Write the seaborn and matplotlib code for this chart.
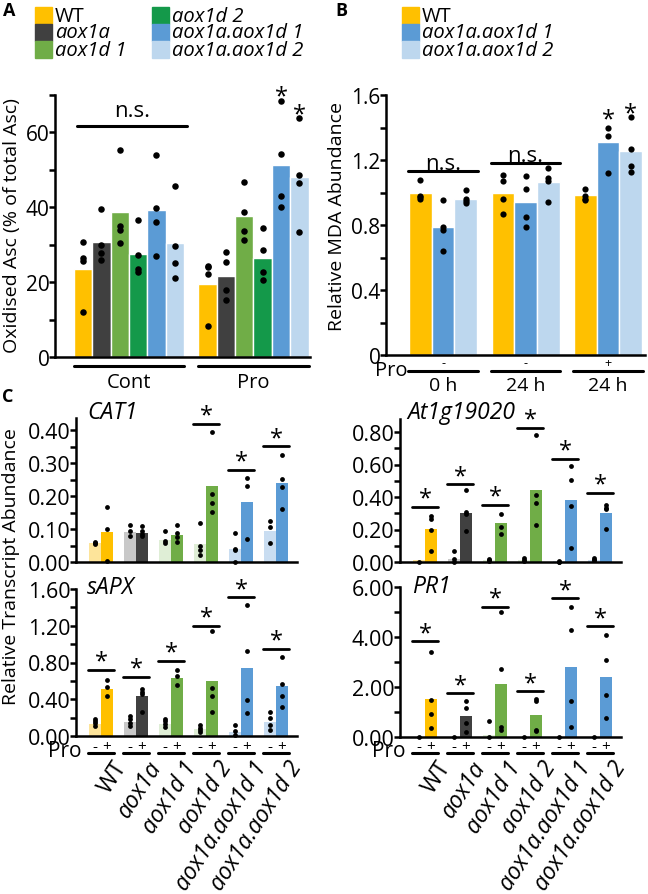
import numpy as np
import pandas as pd
import matplotlib
matplotlib.use("Agg")
import matplotlib.pyplot as plt
import seaborn as sns
from matplotlib.transforms import Affine2D, blended_transform_factory
from matplotlib.patches import Rectangle

sns.set_style("ticks", {"axes.edgecolor": "black", "xtick.color": "black",
                        "ytick.color": "black", "text.color": "black"})
plt.rcParams['font.family'] = ['Open Sans', 'DejaVu Sans']

# ---------------- data ----------------
genotypes = ["WT", "aox1a", "aox1d 1", "aox1d 2", "aox1a.aox1d 1", "aox1a.aox1d 2"]
col_A = ["#ffc000", "#404040", "#70ad47", "#14994a", "#5b9bd5", "#bdd7ee"]

# panel A: oxidised ascorbate (% of total)
a_groups = ["Cont", "Pro"]
a_cont = [23.6, 30.8, 38.6, 27.5, 39.2, 30.4]
a_pro = [19.6, 21.5, 37.5, 26.4, 51.3, 47.9]
a_cont_dots = [[30.6, 26.5, 25.7, 11.9], [39.5, 29.9, 27.7, 25.9], [55.3, 35.0, 33.9, 30.4],
               [36.5, 27.2, 23.6, 22.7], [53.9, 39.8, 36.1, 26.9], [45.7, 29.7, 25.2, 21.1]]
a_pro_dots = [[24.2, 23.9, 22.1, 8.3], [28.1, 25.4, 17.9, 15.2], [46.6, 38.8, 33.5, 31.3],
              [34.4, 28.5, 22.6, 20.5], [68.2, 54.1, 43.0, 39.9], [63.7, 48.5, 46.4, 33.4]]

# panel B: relative MDA abundance
b_genos = ["WT", "aox1a.aox1d 1", "aox1a.aox1d 2"]
col_B = ["#ffc000", "#5b9bd5", "#bdd7ee"]
b_conds = ["0h-", "24h-", "24h+"]
b_time = ["0 h", "24 h", "24 h"]
b_pro = ["-", "-", "+"]
b_vals = [[1.00, 0.786, 0.962], [0.997, 0.94, 1.063], [0.985, 1.313, 1.253]]
b_dots = [[[1.08, 0.98, 0.97, 0.96], [0.956, 0.79, 0.77, 0.64], [1.017, 0.96, 0.946, 0.933]],
          [[1.11, 1.07, 0.96, 0.87], [1.10, 1.02, 0.85, 0.79], [1.15, 1.09, 1.07, 0.94]],
          [[1.02, 0.98, 0.96, 0.956], [1.395, 1.35, 1.12], [1.463, 1.268, 1.165, 1.124]]]

# panel C: relative transcript abundance (- / + Pro)
c_light = ["#fde49a", "#c8c8c8", "#dfeed6", "#dfeed6", "#c9ddf1", "#c9ddf1"]
c_dark = ["#ffc000", "#404040", "#70ad47", "#70ad47", "#5b9bd5", "#5b9bd5"]

cat1_minus = [0.058, 0.092, 0.067, 0.055, 0.04, 0.095]
cat1_plus = [0.092, 0.088, 0.082, 0.232, 0.183, 0.24]
cat1_minus_dots = [[0.062, 0.058, 0.055], [0.112, 0.095, 0.08], [0.095, 0.065, 0.058],
                   [0.118, 0.05, 0.036, 0.021], [0.088, 0.04, 0.035, 0.0], [0.126, 0.105, 0.058]]
cat1_plus_dots = [[0.166, 0.10, 0.004], [0.11, 0.095, 0.085, 0.08], [0.113, 0.088, 0.075, 0.06],
                  [0.396, 0.207, 0.179, 0.151], [0.254, 0.23, 0.07], [0.326, 0.252, 0.227, 0.161]]
cat1_sig = [None, None, None, 0.421, 0.28, 0.352]

at1g_minus = [0.01, 0.018, 0.01, 0.012, 0.004, 0.015]
at1g_plus = [0.203, 0.30, 0.24, 0.445, 0.381, 0.30]
at1g_minus_dots = [[0.0], [0.07, 0.02, 0.0], [0.02, 0.01, 0.005], [0.025, 0.015, 0.005],
                   [0.005, 0.0, 0.0], [0.025, 0.015, 0.01]]
at1g_plus_dots = [[0.285, 0.265, 0.2, 0.07], [0.443, 0.31, 0.295, 0.19], [0.293, 0.215, 0.17],
                  [0.78, 0.412, 0.363, 0.23], [0.589, 0.507, 0.347, 0.086], [0.35, 0.335, 0.325, 0.205]]
at1g_sig = [0.338, 0.478, 0.351, 0.825, 0.634, 0.425]

sapx_minus = [0.13, 0.155, 0.13, 0.075, 0.04, 0.155]
sapx_plus = [0.51, 0.43, 0.63, 0.595, 0.745, 0.54]
sapx_minus_dots = [[0.19, 0.165, 0.14, 0.11], [0.22, 0.18, 0.14, 0.11], [0.18, 0.16, 0.13, 0.10],
                   [0.12, 0.09, 0.07, 0.04], [0.12, 0.05, 0.015], [0.26, 0.2, 0.12, 0.07]]
sapx_plus_dots = [[0.61, 0.53, 0.44], [0.51, 0.48, 0.46, 0.26], [0.72, 0.65, 0.55],
                  [1.14, 0.52, 0.43, 0.26], [1.43, 0.92, 0.39, 0.25], [0.86, 0.57, 0.43, 0.32]]
sapx_sig = [0.72, 0.64, 0.82, 1.2, 1.51, 0.95]

pr1_minus = [0.0, 0.0, 0.1, 0.0, 0.0, 0.0]
pr1_plus = [1.53, 0.83, 2.11, 0.89, 2.81, 2.39]
pr1_minus_dots = [[0.0], [0.0], [0.63, 0.0], [0.0], [0.0], [0.0]]
pr1_plus_dots = [[3.39, 1.49, 0.91, 0.35], [1.45, 1.15, 0.55, 0.21], [4.99, 2.73, 0.4, 0.3],
                 [1.53, 1.45, 0.3, 0.25], [5.19, 4.28, 1.43, 0.41], [4.09, 3.09, 1.69, 0.75]]
pr1_sig = [3.83, 1.75, 5.21, 1.83, 5.55, 4.43]

# ---------------- layout helpers ----------------
W, H = 648, 895
fig = plt.figure(figsize=(W / 100, H / 100), dpi=100)
PX = Affine2D().scale(1 / W, -1 / H).translate(0, 1) + fig.transFigure


def add_ax(l, t, r, b):
    return fig.add_axes([l / W, 1 - b / H, (r - l) / W, (b - t) / H])


def style(ax, ticks, labels, size):
    sns.despine(ax=ax)
    ax.spines["left"].set_linewidth(1.8)
    ax.spines["bottom"].set_linewidth(1.8)
    ax.set_yticks(ticks)
    ax.set_yticklabels(labels)
    ax.tick_params(axis="y", direction="out", length=4, width=1.8, labelsize=size, pad=0)
    ax.set_xticks([])
    ax.set_xlabel("")
    ax.set_ylabel("")


def put_dots(ax, dots, width, nh, s):
    bw = width / nh
    for gi, grp in enumerate(dots):
        for hi, pts in enumerate(grp):
            x = gi + (hi - (nh - 1) / 2) * bw
            ax.scatter(np.full(len(pts), x), pts, s=s, color="black", zorder=5,
                       clip_on=False, linewidths=0)


def ftext(x, y, s, **kw):
    fig.text(x, y, s, transform=PX, **kw)


# ---------------- panel A ----------------
axA = add_ax(55, 95.5, 310, 358)
wA = 0.884
dfA = pd.DataFrame({"group": np.repeat(a_groups, 6), "genotype": genotypes * 2,
                    "value": a_cont + a_pro})
sns.barplot(data=dfA, x="group", y="value", hue="genotype", hue_order=genotypes,
            palette=col_A, width=wA, gap=0, dodge=True, saturation=1, errorbar=None,
            legend=False, ax=axA)
put_dots(axA, [a_cont_dots, a_pro_dots], wA, 6, 22)
axA.set_xlim(-0.594, 1.454)
axA.set_ylim(0, 70)
style(axA, range(0, 71, 10), ["0", "", "20", "", "40", "", "60", ""], 15)
trA = blended_transform_factory(axA.transData, PX)
for gi, g in enumerate(a_groups):
    axA.plot([gi - wA / 2, gi + wA / 2], [367, 367], color="black", lw=2.2,
             transform=trA, clip_on=False)
    axA.text(gi, 383, g, transform=trA, ha="center", va="center", fontsize=14.5)
axA.plot([-0.418, 0.466], [127, 127], color="black", lw=2.2, transform=trA, clip_on=False)
axA.text(0.024, 117, "n.s.", transform=trA, ha="center", va="baseline", fontsize=16)
bwA = wA / 6
for hi, ypx in [(4, 89), (5, 107)]:
    axA.text(1 + (hi - 2.5) * bwA, ypx + 8, "*", transform=trA, ha="center",
             va="center", fontsize=17)
ftext(12, 226, "Oxidised Asc (% of total Asc)", rotation=90, ha="center", va="center",
      fontsize=14)

# legend A
for i, (g, c) in enumerate(zip(genotypes, col_A)):
    col, row = divmod(i, 3)
    x0 = 35 + col * 117
    y0 = 8 + row * 17
    fig.patches.append(Rectangle((x0, y0), 17, 17, color=c, transform=PX))
    ftext(x0 + 20, y0 + 8.5, g, ha="left", va="center", fontsize=14.5,
          style="normal" if g == "WT" else "italic")

# ---------------- panel B ----------------
axB = add_ax(386, 96, 645, 356)
wB = 0.824
dfB = pd.DataFrame({"cond": np.repeat(b_conds, 3), "genotype": b_genos * 3,
                    "value": sum(b_vals, [])})
sns.barplot(data=dfB, x="cond", y="value", hue="genotype", hue_order=b_genos,
            palette=col_B, width=wB, gap=0, dodge=True, saturation=1, errorbar=None,
            legend=False, ax=axB)
put_dots(axB, b_dots, wB, 3, 20)
axB.set_xlim(-0.691, 2.448)
axB.set_ylim(0, 1.6)
style(axB, np.arange(0, 1.61, 0.2), ["0", "", "0.4", "", "0.8", "", "1.2", "", "1.6"], 15)
trB = blended_transform_factory(axB.transData, PX)
for gi in range(3):
    axB.plot([gi - 0.42, gi + 0.42], [372, 372], color="black", lw=2.2,
             transform=trB, clip_on=False)
    axB.text(gi, 364, b_pro[gi], transform=trB, ha="center", va="center", fontsize=9)
    axB.text(gi, 386, b_time[gi], transform=trB, ha="center", va="center", fontsize=14)
for gi, ypx in [(0, 172), (1, 164)]:
    axB.plot([gi - 0.42, gi + 0.42], [ypx, ypx], color="black", lw=2.2, transform=trB,
             clip_on=False)
    axB.text(gi, ypx - 2, "n.s.", transform=trB, ha="center", va="baseline", fontsize=16)
bwB = wB / 3
for hi, ypx in [(1, 112), (2, 106)]:
    axB.text(2 + (hi - 1) * bwB, ypx + 8, "*", transform=trB, ha="center",
             va="center", fontsize=17)
ftext(391, 371, "Pro", ha="center", va="center", fontsize=14.5)
ftext(337, 217, "Relative MDA Abundance", rotation=90, ha="center", va="center",
      fontsize=14)
for i, (g, c) in enumerate(zip(b_genos, col_B)):
    y0 = 8 + i * 17
    fig.patches.append(Rectangle((402, y0), 17, 17, color=c, transform=PX))
    ftext(422, y0 + 8.5, g, ha="left", va="center", fontsize=14.5,
          style="normal" if g == "WT" else "italic")

# ---------------- panel C ----------------
wC = 0.686


def panel_c(box, minus, plus, mdots, pdots, sig, ylim, ticks, labels, title, tpos):
    ax = add_ax(*box)
    df = pd.DataFrame({"genotype": genotypes * 2, "pro": ["-"] * 6 + ["+"] * 6,
                       "value": minus + plus})
    sns.barplot(data=df, x="genotype", y="value", hue="pro", order=genotypes,
                hue_order=["-", "+"], width=wC, gap=0, dodge=True, saturation=1,
                errorbar=None, legend=False, ax=ax)
    bars = sorted(ax.patches, key=lambda p: p.get_x())
    for bar, c in zip(bars, [c for pair in zip(c_light, c_dark) for c in pair]):
        bar.set_facecolor(c)
        bar.set_edgecolor("none")
    put_dots(ax, [list(p) for p in zip(mdots, pdots)], wC, 2, 12)
    ax.set_xlim(-0.714, 5.6)
    ax.set_ylim(*ylim)
    style(ax, ticks, labels, 15.5)
    tr = blended_transform_factory(ax.transData, PX)
    for gi, h in enumerate(sig):
        if h is None:
            continue
        ax.plot([gi - 0.37, gi + 0.37], [h, h], color="black", lw=2.0, clip_on=False)
        ax.annotate("*", (gi, h), xytext=(0, 6), textcoords="offset points",
                    ha="center", va="center", fontsize=17, annotation_clip=False)
    ftext(tpos[0], tpos[1], title, ha="left", va="center", fontsize=16.5, style="italic")
    return ax, tr


def fmt(vals, every):
    return [f"{v:.2f}" if i % every == 0 else "" for i, v in enumerate(vals)]


t1 = np.arange(0, 0.401, 0.05)
ax1, tr1 = panel_c((76, 419, 297, 563), cat1_minus, cat1_plus, cat1_minus_dots,
                   cat1_plus_dots, cat1_sig, (0, 0.438), t1, fmt(t1, 2), "CAT1", (87, 413))
t2 = np.arange(0, 0.801, 0.1)
ax2, tr2 = panel_c((400, 420, 621, 563), at1g_minus, at1g_plus, at1g_minus_dots,
                   at1g_plus_dots, at1g_sig, (0, 0.88), t2, fmt(t2, 2), "At1g19020", (407, 413))
t3 = np.arange(0, 1.601, 0.2)
ax3, tr3 = panel_c((76, 590, 297, 737), sapx_minus, sapx_plus, sapx_minus_dots,
                   sapx_plus_dots, sapx_sig, (0, 1.6), t3, fmt(t3, 2), "sAPX", (87, 588))
t4 = np.arange(0, 6.01, 1.0)
ax4, tr4 = panel_c((400, 588, 621, 738), pr1_minus, pr1_plus, pr1_minus_dots,
                   pr1_plus_dots, pr1_sig, (0, 6), t4, fmt(t4, 2), "PR1", (412, 587))

for ax, tr, xpro in [(ax3, tr3, 65), (ax4, tr4, 389)]:
    for gi, g in enumerate(genotypes):
        ax.text(gi - 0.17, 748, "-", transform=tr, ha="center", va="center", fontsize=11)
        ax.text(gi + 0.17, 748, "+", transform=tr, ha="center", va="center", fontsize=11)
        ax.plot([gi - 0.37, gi + 0.37], [754, 754], color="black", lw=2.2, transform=tr,
                clip_on=False)
        ax.text(gi + 0.32, 757, g, transform=tr, ha="right", va="top", rotation=57,
                rotation_mode="anchor", fontsize=16.5,
                style="normal" if g == "WT" else "italic")
    ftext(xpro, 752, "Pro", ha="center", va="center", fontsize=15)

ftext(11, 567, "Relative Transcript Abundance", rotation=90, ha="center", va="center",
      fontsize=14)

# panel letters
ftext(9, 11, "A", ha="center", va="center", fontsize=13, weight="bold")
ftext(341, 11, "B", ha="center", va="center", fontsize=13, weight="bold")
ftext(8, 397, "C", ha="center", va="center", fontsize=13, weight="bold")

fig.savefig("out.png", dpi=100)
